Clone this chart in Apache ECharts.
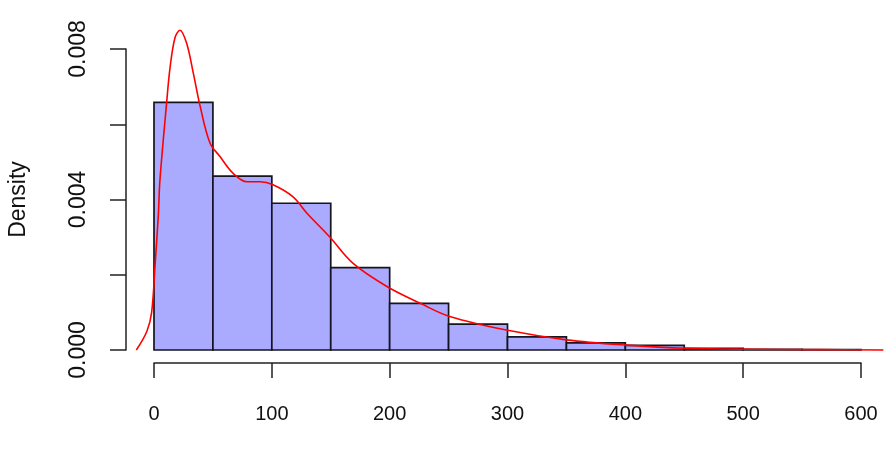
<!DOCTYPE html>
<html>
<head>
<meta charset="utf-8">
<script src="https://cdn.jsdelivr.net/npm/echarts@6/dist/echarts.min.js"></script>
<style>
  html, body { margin: 0; padding: 0; background: #fff; }
  #chart { width: 887px; height: 469px; }
</style>
</head>
<body>
<div id="chart"></div>
<script>
// histogram bins (width 50) and their densities
const binStarts = [0, 50, 100, 150, 200, 250, 300, 350, 400, 450, 500, 550];
const binWidth = 50;
const densities = [0.00658, 0.00462, 0.0039, 0.00219, 0.00124, 0.00069, 0.00035, 0.00019, 0.000125, 0.000045, 0.00002, 0.00001];

// kernel density curve
const kdeX = [-15, -6, -2, 1, 3.7, 5, 10.8, 13.6, 17.8, 22, 27.7, 33.4, 39, 47.5, 56, 67, 79, 90, 101, 118, 130, 149, 169, 198, 226, 251, 299, 350, 401, 452, 508, 565, 619];
const kdeY = [0, 0.0005, 0.001, 0.0023, 0.0036, 0.0045, 0.0066, 0.0075, 0.0083, 0.0085, 0.00815, 0.00735, 0.0065, 0.0055, 0.00514, 0.0047, 0.00447, 0.00447, 0.00439, 0.00407, 0.00363, 0.00301, 0.0023, 0.00168, 0.00124, 0.00089, 0.00053, 0.00027, 0.00013, 0.000045, 0.00002, 0.00001, 0];

const xTicks = [0, 100, 200, 300, 400, 500, 600];

const chart = echarts.init(document.getElementById('chart'));

const pxPerX = 707 / 600;
const pxPerY = 301 / 0.008;

const histData = binStarts.map((s, i) => [s, s + binWidth, densities[i]]);
const kdeData = kdeX.map((x, i) => [x, kdeY[i]]);

const font = '"Liberation Sans", Arial, sans-serif';

chart.setOption({
  animation: false,
  grid: [
    { // data grid, slightly wider than the drawn axes
      left: 154 - 20 * pxPerX,
      width: 640 * pxPerX,
      top: 350 - 0.009 * pxPerY,
      height: 0.009 * pxPerY,
      outerBoundsMode: 'none'
    },
    { // axes grid
      left: 154,
      width: 707,
      top: 49,
      height: 301,
      outerBoundsMode: 'none'
    }
  ],
  xAxis: [
    { gridIndex: 0, type: 'value', min: -20, max: 620, show: false },
    {
      gridIndex: 1, type: 'value', min: xTicks[0], max: xTicks[xTicks.length - 1], interval: 100,
      offset: 13,
      splitLine: { show: false },
      axisLine: { show: true, onZero: false, lineStyle: { color: '#222', width: 1.5 } },
      axisTick: { show: true, length: 15, lineStyle: { color: '#222', width: 1.5 } },
      axisLabel: { margin: 41, color: '#111', fontSize: 20, fontFamily: font }
    }
  ],
  yAxis: [
    { gridIndex: 0, type: 'value', min: 0, max: 0.009, show: false },
    {
      gridIndex: 1, type: 'value', min: 0, max: 0.008, interval: 0.002,
      offset: 28,
      name: 'Density',
      nameLocation: 'middle',
      nameRotate: 90,
      nameGap: 96,
      nameTextStyle: { color: '#111', fontSize: 23, fontFamily: font },
      splitLine: { show: false },
      axisLine: { show: true, onZero: false, lineStyle: { color: '#222', width: 1.5 } },
      axisTick: { show: true, length: 16, lineStyle: { color: '#222', width: 1.5 } },
      axisLabel: {
        rotate: 90,
        margin: 36,
        color: '#111',
        fontSize: 23,
        fontFamily: font,
        formatter: v => (Math.round(v * 1000) % 4 === 0 ? v.toFixed(3) : '')
      }
    }
  ],
  series: [
    {
      type: 'custom',
      xAxisIndex: 0,
      yAxisIndex: 0,
      data: histData,
      encode: { x: [0, 1], y: 2 },
      renderItem: function (params, api) {
        const p0 = api.coord([api.value(0), api.value(2)]);
        const p1 = api.coord([api.value(1), 0]);
        return {
          type: 'rect',
          shape: { x: p0[0], y: p0[1], width: p1[0] - p0[0], height: p1[1] - p0[1] },
          style: { fill: '#aaaaff', stroke: '#15151f', lineWidth: 1.7 }
        };
      }
    },
    {
      type: 'line',
      xAxisIndex: 0,
      yAxisIndex: 0,
      data: kdeData,
      showSymbol: false,
      smooth: 0.35,
      clip: false,
      lineStyle: { color: '#ff0000', width: 1.6 },
      z: 5
    }
  ]
});
</script>
</body>
</html>
